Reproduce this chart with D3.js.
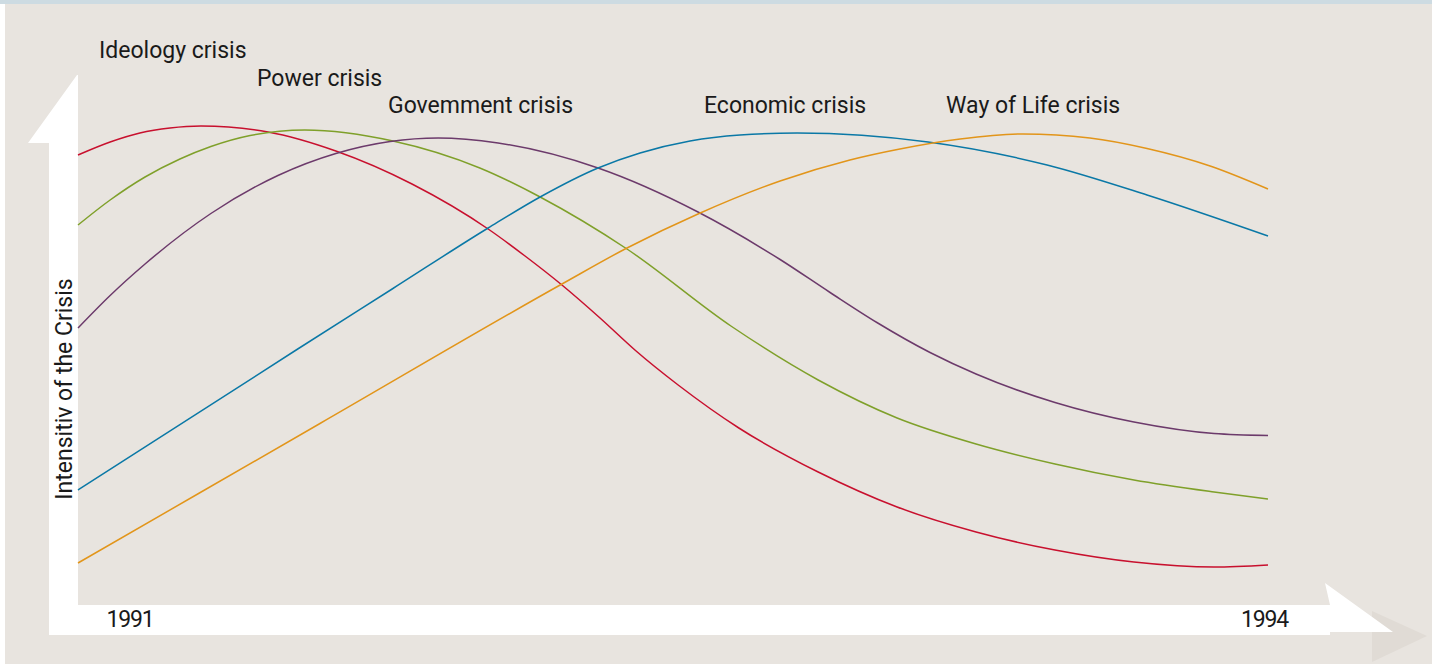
<!DOCTYPE html>
<html>
<head>
<meta charset="utf-8">
<script src="https://cdn.jsdelivr.net/npm/d3@7"></script>
<style>
	html, body { margin: 0; padding: 0; background: #ffffff; }
	svg { display: block; }
	text { font-family: Roboto, 'Noto Sans', sans-serif; fill: #1a1a1a; }
</style>
</head>
<body>
<svg width="1432" height="664"></svg>
<script>
// years as fractions, intensity 0-100
const ideologyYears = [1991.000, 1991.081, 1991.156, 1991.232, 1991.310, 1991.479, 1991.650, 1991.842, 1992.034, 1992.127, 1992.220, 1992.316, 1992.404, 1992.513, 1992.666, 1992.866, 1993.065, 1993.264, 1993.463, 1993.662, 1993.864, 1994.000]
const ideologyValues = [89.0, 91.6, 93.4, 94.4, 94.8, 93.6, 89.8, 83.2, 74.2, 68.8, 63.0, 56.4, 50.0, 43.0, 34.4, 25.6, 18.6, 13.6, 10.0, 7.6, 6.6, 7.0]

const powerYears = [1991.000, 1991.081, 1991.169, 1991.257, 1991.335, 1991.434, 1991.572, 1991.794, 1992.013, 1992.165, 1992.384, 1992.646, 1992.866, 1993.065, 1993.264, 1993.463, 1993.662, 1993.864, 1994.000]
const powerValues = [75.0, 80.0, 84.6, 88.2, 90.7, 92.9, 94.0, 91.8, 86.4, 80.6, 70.2, 54.8, 44.0, 36.4, 31.2, 27.2, 24.0, 21.6, 20.2]

const governmentYears = [1991.000, 1991.081, 1991.169, 1991.335, 1991.504, 1991.650, 1991.787, 1991.908, 1992.059, 1992.311, 1992.563, 1992.770, 1992.896, 1993.014, 1993.148, 1993.264, 1993.463, 1993.662, 1993.864, 1994.000]
const governmentValues = [54.4, 60.9, 67.2, 77.3, 84.9, 89.3, 91.7, 92.4, 91.4, 86.4, 77.6, 68.1, 61.5, 55.5, 49.5, 45.2, 39.5, 35.6, 33.3, 32.9]

const economicYears = [1991.000, 1991.550, 1991.792, 1992.034, 1992.165, 1992.311, 1992.417, 1992.543, 1992.669, 1992.813, 1993.143, 1993.443, 1993.695, 1994.000]
const economicValues = [22.0, 50.0, 62.2, 74.4, 80.6, 86.4, 89.4, 91.8, 93.0, 93.4, 91.6, 87.0, 81.0, 72.8]

const wayOfLifeYears = [1991.000, 1991.610, 1992.220, 1992.384, 1992.563, 1992.770, 1992.946, 1993.072, 1993.224, 1993.382, 1993.551, 1993.695, 1993.854, 1994.000]
const wayOfLifeValues = [7.4, 35.3, 63.2, 70.4, 77.2, 83.8, 88.0, 90.2, 92.2, 93.2, 92.4, 90.3, 86.8, 82.2]

const seriesNames = ['Ideology crisis', 'Power crisis', 'Govemment crisis', 'Economic crisis', 'Way of Life crisis']
const seriesColors = ['#c8102e', '#7fa02a', '#6c3a6b', '#0a78a6', '#e2951a']
const tickYears = [1991, 1994]
const yTitle = 'Intensitiv of the Crisis'

const series = [
	[ideologyYears, ideologyValues],
	[powerYears, powerValues],
	[governmentYears, governmentValues],
	[economicYears, economicValues],
	[wayOfLifeYears, wayOfLifeValues]
].map(([xs, ys], i) => ({
	name: seriesNames[i],
	color: seriesColors[i],
	points: xs.map((x, j) => ({ year: x, value: ys[j] }))
}))

const svg = d3.select('svg')

// page background and top strip
svg.append('rect').attr('x', 5).attr('y', 0).attr('width', 1427).attr('height', 664).attr('fill', '#e8e4df')
svg.append('rect').attr('x', 0).attr('y', 0).attr('width', 1432).attr('height', 4).attr('fill', '#cddbe2')

// faint shadow arrow on the right
svg.append('path')
	.attr('d', 'M1372,611 L1427,636 L1372,662 Z')
	.attr('fill', '#e0dbd5')

// white arrows forming the axes
svg.append('path')
	.attr('d', 'M49,635 L49,143 L28,143 L77,75 L78,75 L78,605 L1330,605 L1325,583 L1393,632 L1330,632 L1330,635 Z')
	.attr('fill', '#ffffff')

const x = d3.scaleLinear().domain([1991, 1994]).range([78, 1268])
const y = d3.scaleLinear().domain([0, 100]).range([600, 100])

const line = d3.line()
	.x(d => x(d.year))
	.y(d => y(d.value))
	.curve(d3.curveMonotoneX)

svg.append('g')
	.attr('id', 'lines')
	.selectAll('path')
	.data(series)
	.enter()
	.append('path')
	.attr('d', d => line(d.points))
	.attr('fill', 'none')
	.attr('stroke', d => d.color)
	.attr('stroke-width', 1.5)

// series labels, staggered above their peaks
const labelX = [99, 257, 388, 704, 946]
const labelY = [58, 86, 113, 113, 113]
svg.append('g')
	.attr('id', 'labels')
	.selectAll('text')
	.data(series)
	.enter()
	.append('text')
	.attr('x', (d, i) => labelX[i])
	.attr('y', (d, i) => labelY[i])
	.attr('font-size', 23)
	.text(d => d.name)

// x axis: only the two year labels
let bottomAxisG = svg.append('g')
	.attr('id', 'bottom-axis')
	.attr('transform', 'translate(0, 605)')
bottomAxisG.call(d3.axisBottom(x).tickValues(tickYears).tickFormat(d3.format('d')).tickSize(0).tickPadding(0))
bottomAxisG.select('.domain').remove()
bottomAxisG.selectAll('text')
	.attr('font-size', 23)
	.attr('letter-spacing', -1.2)
	.attr('font-family', 'Roboto, sans-serif')
	.attr('fill', '#1a1a1a')
	.attr('dy', 22)
	.attr('text-anchor', d => d === 1991 ? 'start' : 'middle')
	.attr('dx', d => d === 1991 ? 28 : -4)

svg.append('text')
	.attr('transform', 'translate(72, 389) rotate(-90)')
	.attr('text-anchor', 'middle')
	.attr('font-size', 23)
	.text(yTitle)
</script>
</body>
</html>
